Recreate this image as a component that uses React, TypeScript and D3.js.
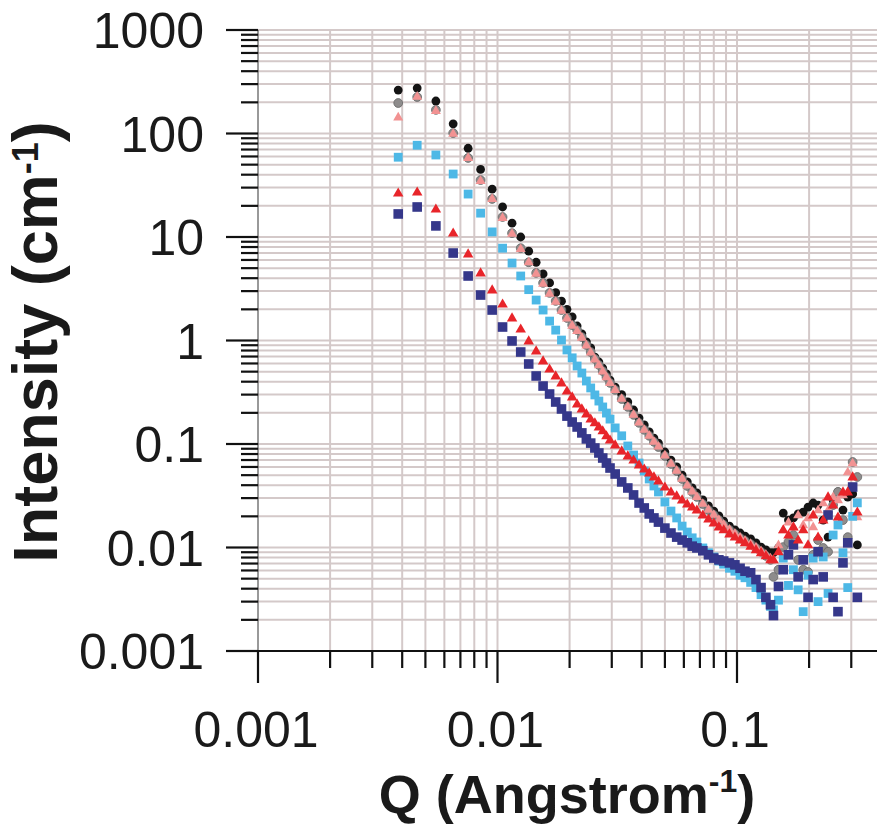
import React from 'react';
import * as d3 from 'd3';

// Shared Q grid (Angstrom^-1)
const qValues = [
  0.00385, 0.00462, 0.00553, 0.00653, 0.00754, 0.0085, 0.0095, 0.0105, 0.0115, 0.0125,
  0.0135, 0.0145, 0.0155, 0.0165, 0.0175, 0.0185, 0.0195, 0.0205, 0.0215, 0.0225,
  0.0235, 0.0245, 0.0255, 0.0265, 0.0275, 0.0285, 0.0295,
  0.031, 0.033, 0.035, 0.037, 0.039, 0.041, 0.043, 0.045, 0.047, 0.05,
  0.053, 0.056, 0.059, 0.062, 0.065, 0.068, 0.072, 0.076, 0.08, 0.084,
  0.088, 0.093, 0.098, 0.103, 0.108, 0.114, 0.12, 0.126, 0.132, 0.138,
  0.142, 0.149, 0.156, 0.164, 0.172, 0.18, 0.189, 0.198, 0.208, 0.218,
  0.229, 0.24, 0.252, 0.264, 0.277, 0.29, 0.304, 0.318,
];

const blackCircles = [
  263, 275, 206, 124, 72, 45, 29, 19.5, 13.6, 10, 7.3, 5.7, 4.4, 3.6, 2.9, 2.4, 2.0, 1.69, 1.38, 1.16,
  0.97, 0.85, 0.69, 0.62, 0.54, 0.475, 0.415,
  0.355, 0.30, 0.255, 0.213, 0.178, 0.153, 0.131, 0.114, 0.102, 0.0837, 0.070, 0.060, 0.050, 0.043, 0.0376,
  0.0336, 0.0288, 0.0252, 0.0225, 0.0202, 0.018, 0.0161, 0.0148, 0.0138, 0.0129, 0.0121, 0.0111, 0.0101, 0.0095, 0.0089,
  0.0089, 0.0099, 0.0215, 0.0184, 0.0193, 0.0211, 0.022, 0.0246, 0.0269, 0.0257, 0.0184, 0.0126, 0.0288, 0.0344,
  0.023, 0.0307, 0.0329, 0.0106,
];

const grayCircles = [
  197, 225, 169, 101, 58, 35.5, 23.3, 15.6, 10.9, 7.8, 5.7, 4.5, 3.6, 2.88, 2.41, 1.97, 1.65, 1.41, 1.26, 1.08,
  0.905, 0.774, 0.663, 0.58, 0.507, 0.444, 0.389,
  0.333, 0.272, 0.228, 0.191, 0.160, 0.137, 0.120, 0.105, 0.0935, 0.0766, 0.0641, 0.0548, 0.0459, 0.0393, 0.0344,
  0.0308, 0.0263, 0.0230, 0.0206, 0.0184, 0.0165, 0.0148, 0.0135, 0.0124, 0.0116, 0.0108, 0.0099, 0.0091, 0.0083, 0.0076,
  0.0052, 0.0061, 0.0101, 0.0113, 0.0132, 0.0076, 0.0061, 0.0058, 0.0085, 0.0118, 0.0099, 0.0091, 0.0257, 0.0344,
  0.0184, 0.0126, 0.067, 0.048,
];

const pinkTriangles = [
  144, 228, 166, 100, 58.5, 35, 23.5, 15.4, 10.8, 7.7, 5.75, 4.45, 3.55, 2.85, 2.38, 1.95, 1.64, 1.4, 1.24, 1.07,
  0.9, 0.77, 0.66, 0.58, 0.505, 0.445, 0.39,
  0.335, 0.275, 0.23, 0.193, 0.162, 0.138, 0.121, 0.106, 0.095, 0.078, 0.065, 0.0555, 0.0465, 0.040, 0.035,
  0.031, 0.0266, 0.0233, 0.0208, 0.0186, 0.0167, 0.015, 0.0137, 0.0126, 0.0117, 0.0109, 0.0101, 0.0093, 0.0086, 0.0079,
  0.0076, 0.0106, 0.0148, 0.0176, 0.0158, 0.0206, 0.0165, 0.0193, 0.0158, 0.0230, 0.0269, 0.0230, 0.0308, 0.0288,
  0.0322, 0.0536, 0.0655, 0.0197,
];

const lightBlueSquares = [
  59, 77, 62, 40.6, 26, 17, 11.2, 7.8, 5.6, 4.2, 3.1, 2.46, 1.97, 1.54, 1.26, 1.01, 0.81, 0.68, 0.567, 0.485,
  0.406, 0.348, 0.298, 0.26, 0.228, 0.199, 0.174,
  0.143, 0.120, 0.0957, 0.0783, 0.0655, 0.0548, 0.0459, 0.0393, 0.0344, 0.0275, 0.0225, 0.0193, 0.0161, 0.0141, 0.0124,
  0.0113, 0.0099, 0.0089, 0.0081, 0.0074, 0.0069, 0.0063, 0.0059, 0.0054, 0.0051, 0.0046, 0.0041, 0.0035, 0.0031, 0.0027,
  0.0025, 0.0031, 0.0079, 0.0043, 0.0061, 0.0039, 0.0024, 0.0054, 0.0079, 0.0030, 0.0081, 0.0036, 0.0132, 0.0165,
  0.0089, 0.0041, 0.02, 0.027,
];

const redTriangles = [
  26.6, 27.2, 18.6, 10.9, 6.85, 4.49, 3.08, 2.25, 1.65, 1.29, 0.99, 0.792, 0.634, 0.53, 0.454, 0.389, 0.325, 0.285, 0.243, 0.218,
  0.195, 0.174, 0.160, 0.146, 0.134, 0.120, 0.109,
  0.0978, 0.0856, 0.0766, 0.070, 0.0627, 0.0573, 0.0525, 0.048, 0.0439, 0.0384, 0.0344, 0.0315, 0.0288, 0.0263, 0.0246,
  0.0230, 0.0206, 0.0188, 0.0172, 0.0158, 0.0148, 0.0135, 0.0126, 0.0118, 0.0111, 0.0103, 0.0095, 0.0089, 0.0083, 0.0076,
  0.0076, 0.0091, 0.0148, 0.0132, 0.0158, 0.0118, 0.0148, 0.0106, 0.0206, 0.0126, 0.0184, 0.0308, 0.0257, 0.0197,
  0.0344, 0.0344, 0.048, 0.022,
];

const navySquares = [
  16.7, 19.5, 12.8, 7.0, 4.2, 2.75, 1.97, 1.35, 0.99, 0.774, 0.593, 0.454, 0.363, 0.304, 0.2545, 0.218, 0.186, 0.163, 0.146, 0.128,
  0.112, 0.102, 0.0915, 0.0819, 0.0732, 0.0655, 0.0586,
  0.0513, 0.043, 0.0376, 0.0322, 0.0269, 0.0241, 0.0211, 0.0193, 0.0176, 0.0154, 0.0138, 0.0126, 0.0118, 0.0111, 0.0103,
  0.0099, 0.0093, 0.0085, 0.0079, 0.0076, 0.0074, 0.0071, 0.0068, 0.0063, 0.0059, 0.0057, 0.0049, 0.0041, 0.0033, 0.0028,
  0.0022, 0.0042, 0.0061, 0.0085, 0.0106, 0.0052, 0.0076, 0.0033, 0.0049, 0.0091, 0.0052, 0.0206, 0.0033, 0.0024,
  0.0071, 0.0111, 0.0384, 0.0033,
];

const xTickLabels = ['0.001', '0.01', '0.1'];
const yTickLabels = ['0.001', '0.01', '0.1', '1', '10', '100', '1000'];
const xMajorValues = [0.001, 0.01, 0.1];
const yMajorValues = [0.001, 0.01, 0.1, 1, 10, 100, 1000];

const FONT = '"Liberation Sans", Arial, Helvetica, sans-serif';

export default function App() {
  const W = 877;
  const H = 829;
  const left = 258;
  const right = 877;
  const top = 30;
  const bottom = 651;

  const x = d3.scaleLog().domain([0.001, 0.1]).range([258, 737]);
  const y = d3.scaleLog().domain([0.001, 1000]).range([651, 30]);

  const xMinor: number[] = [];
  xMajorValues.forEach((d) => {
    for (let m = 2; m <= 9; m++) {
      const v = d * m;
      if (x(v) <= right) xMinor.push(v);
    }
  });
  const yMinor: number[] = [];
  yMajorValues.slice(0, -1).forEach((d) => {
    for (let m = 2; m <= 9; m++) yMinor.push(d * m);
  });

  const gridColor = '#d4c9c9';
  const tri = (cx: number, cy: number, s: number) => {
    const h = s * 0.866;
    return `M${cx},${cy - h * 0.62}L${cx + s / 2},${cy + h * 0.38}L${cx - s / 2},${cy + h * 0.38}Z`;
  };

  const pts = (vals: number[]) => qValues.map((q, i) => ({ cx: x(q), cy: y(vals[i]) }));

  return (
    <svg
      width={W}
      height={H}
      style={{ position: 'absolute', left: 0, top: 0, background: '#fff' }}
      fontFamily={FONT}
    >
      <rect x={0} y={0} width={W} height={H} fill="#fff" />
      {/* grid */}
      <g stroke={gridColor} strokeWidth={2}>
        {[...yMinor, ...yMajorValues.slice(1)].map((v, i) => (
          <line key={'hy' + i} x1={left} x2={right} y1={y(v)} y2={y(v)} />
        ))}
        {[...xMinor, ...xMajorValues.slice(1)].map((v, i) => (
          <line key={'vx' + i} x1={x(v)} x2={x(v)} y1={top} y2={bottom} />
        ))}
      </g>

      {/* y axis */}
      <line x1={left} x2={left} y1={top} y2={bottom} stroke="#555" strokeWidth={1.2} />
      <g stroke="#111" strokeWidth={2.2}>
        {yMajorValues.map((v, i) => (
          <line key={'yM' + i} x1={226} x2={left} y1={y(v)} y2={y(v)} />
        ))}
        {yMinor.map((v, i) => (
          <line key={'ym' + i} x1={241} x2={left} y1={y(v)} y2={y(v)} />
        ))}
      </g>
      {/* x axis */}
      <g stroke="#111" strokeWidth={2.2}>
        <line x1={226} x2={right} y1={bottom} y2={bottom} />
        {xMajorValues.map((v, i) => (
          <line key={'xM' + i} x1={x(v)} x2={x(v)} y1={bottom} y2={bottom + 32} />
        ))}
        {xMinor.map((v, i) => (
          <line key={'xm' + i} x1={x(v)} x2={x(v)} y1={bottom} y2={bottom + 17} />
        ))}
      </g>

      {/* tick labels */}
      <g fill="#1a1a1a" fontSize={50}>
        {yMajorValues.map((v, i) => (
          <text key={'yl' + i} x={204} y={y(v) + 18} textAnchor="end">
            {yTickLabels[i]}
          </text>
        ))}
        {xMajorValues.map((v, i) => (
          <text key={'xl' + i} x={x(v) - 2} y={747} textAnchor="middle">
            {xTickLabels[i]}
          </text>
        ))}
      </g>

      {/* axis titles */}
      <text x={567} y={813} textAnchor="middle" fontSize={54} fontWeight="bold" fill="#1a1a1a">
        Q (Angstrom
        <tspan fontSize={32} dy={-21}>-1</tspan>
        <tspan dy={21}>)</tspan>
      </text>
      <text
        transform="translate(57,342) rotate(-90)"
        textAnchor="middle"
        fontSize={63}
        fontWeight="bold"
        fill="#1a1a1a"
      >
        Intensity (cm
        <tspan fontSize={36} dy={-19}>-1</tspan>
        <tspan dy={19}>)</tspan>
      </text>

      {/* data */}
      <g>
        {pts(blackCircles).map((p, i) => (
          <circle key={'b' + i} cx={p.cx} cy={p.cy} r={4.4} fill="#141414" />
        ))}
        {pts(grayCircles).map((p, i) => (
          <circle key={'g' + i} cx={p.cx} cy={p.cy} r={4.4} fill="#8e8c8c" stroke="#666" strokeWidth={0.8} />
        ))}
        {pts(pinkTriangles).map((p, i) => (
          <path key={'p' + i} d={tri(p.cx, p.cy, 10)} fill="#f29292" />
        ))}
        {pts(lightBlueSquares).map((p, i) => (
          <rect key={'lb' + i} x={p.cx - 4.4} y={p.cy - 4.4} width={8.8} height={8.8} fill="#4db8e6" />
        ))}
        {pts(navySquares).map((p, i) => (
          <rect key={'n' + i} x={p.cx - 4.8} y={p.cy - 4.8} width={9.6} height={9.6} fill="#35378a" />
        ))}
        {pts(redTriangles).map((p, i) => (
          <path key={'r' + i} d={tri(p.cx, p.cy, 10.5)} fill="#e8252a" />
        ))}
      </g>
    </svg>
  );
}
